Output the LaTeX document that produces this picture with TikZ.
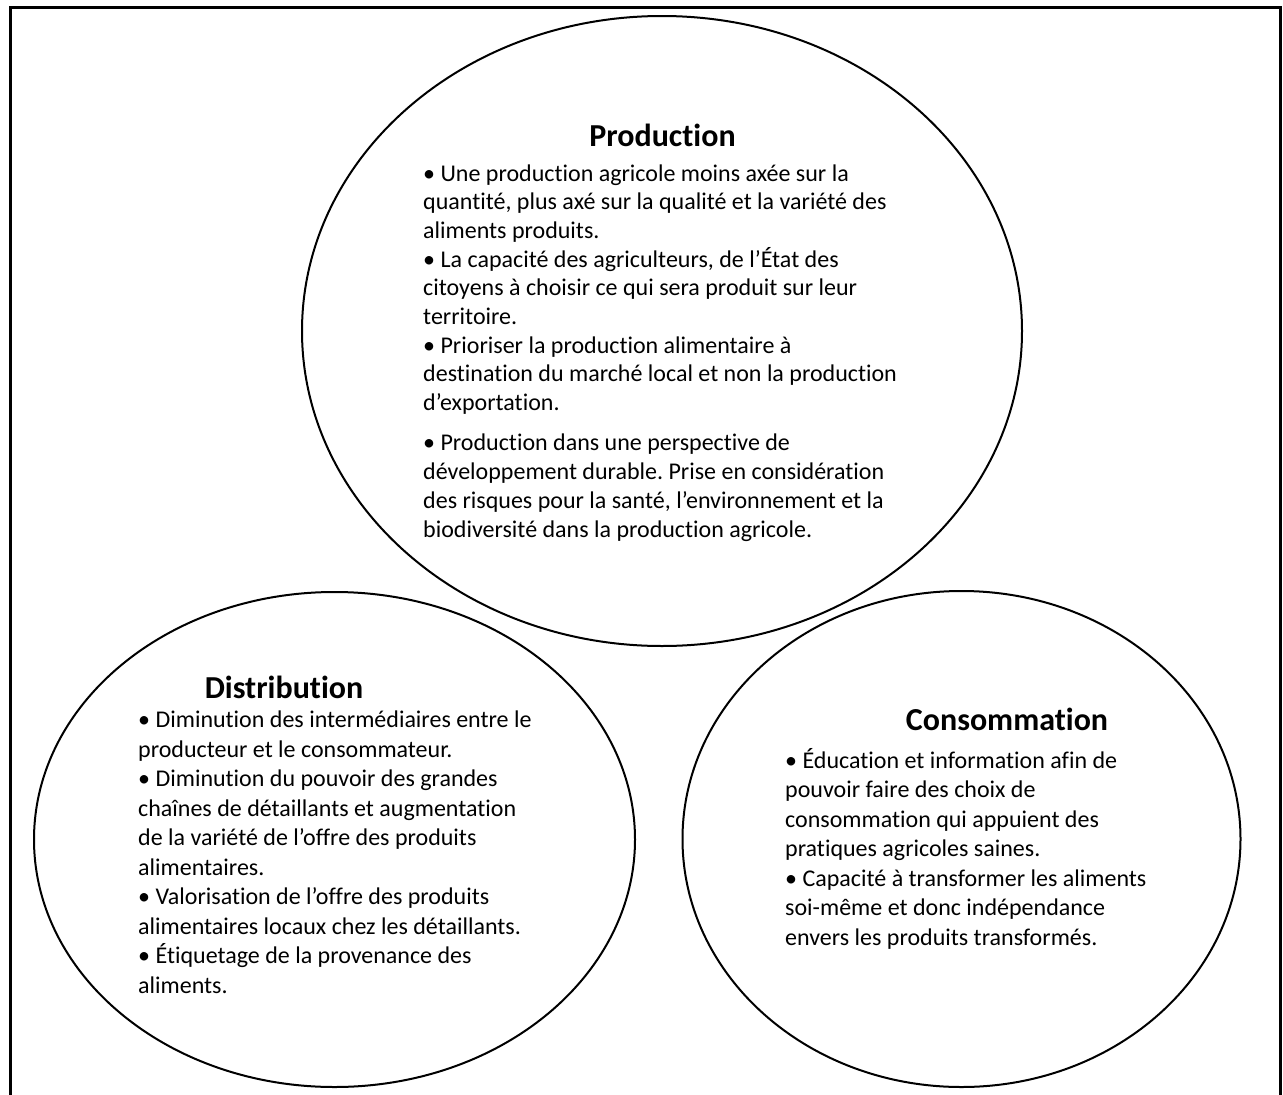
\documentclass[tikz,border=0pt]{standalone}
\usepackage{fontspec}
\setmainfont{Carlito}[Ligatures=NoCommon]
\usetikzlibrary{shapes.geometric}
\frenchspacing
\begin{document}
\begin{tikzpicture}[x=1pt,y=-1pt,
  sphere/.style={draw, ellipse, line width=2pt, inner sep=0pt, outer sep=0pt},
  head/.style={font=\fontsize{32}{38}\selectfont\bfseries, anchor=base, inner sep=0pt},
  txt/.style={font=\fontsize{24}{29}\selectfont, anchor=base west, inner sep=0pt}]
\useasboundingbox (0,0) rectangle (1283,1095);

% open frame (no bottom edge)
\coordinate (fbl) at (10.7,1095);
\coordinate (ftl) at (10.7,7);
\coordinate (ftr) at (1280,7);
\coordinate (fbr) at (1280,1095);
\draw[line width=3pt] (fbl) -- (ftl) -- (ftr) -- (fbr);

% the three spheres
\node[sphere, minimum width=720pt, minimum height=630pt] (prod) at (662,331) {};
\node[sphere, minimum width=601pt, minimum height=495pt] (dist) at (334.5,839.5) {};
\node[sphere, minimum width=558pt, minimum height=496pt] (cons) at (961.5,839) {};

% Production
\node[head] (hprod) at (662.5,146) {Production};
\foreach \t [count=\k from 0] in {
  {• Une production agricole moins axée sur la},
  {quantité, plus axé sur la qualité et la variété des},
  {aliments produits.},
  {• La capacité des agriculteurs, de l’État des},
  {citoyens à choisir ce qui sera produit sur leur},
  {territoire.},
  {• Prioriser la production alimentaire à},
  {destination du marché local et non la production},
  {d’exportation.}}
  \node[txt] (pa\k) at (423,181+\k*28.7) {\t};
\foreach \t [count=\k from 0] in {
  {• Production dans une perspective de},
  {développement durable. Prise en considération},
  {des risques pour la santé, l’environnement et la},
  {biodiversité dans la production agricole.}}
  \node[txt] (pb\k) at (423,450+\k*29) {\t};

% Distribution
\node[head] (hdist) at (284,698) {Distribution};
\foreach \t [count=\k from 0] in {
  {• Diminution des intermédiaires entre le},
  {producteur et le consommateur.},
  {• Diminution du pouvoir des grandes},
  {chaînes de détaillants et augmentation},
  {de la variété de l’offre des produits},
  {alimentaires.},
  {• Valorisation de l’offre des produits},
  {alimentaires locaux chez les détaillants.},
  {• Étiquetage de la provenance des},
  {aliments.}}
  \node[txt] (d\k) at (138,727.5+\k*29.5) {\t};

% Consommation
\node[head] (hcons) at (1007,730) {Consommation};
\foreach \t [count=\k from 0] in {
  {• Éducation et information afin de},
  {pouvoir faire des choix de},
  {consommation qui appuient des},
  {pratiques agricoles saines.},
  {• Capacité à transformer les aliments},
  {soi-même et donc indépendance},
  {envers les produits transformés.}}
  \node[txt] (c\k) at (785,768+\k*29.5) {\t};
\end{tikzpicture}
\end{document}
